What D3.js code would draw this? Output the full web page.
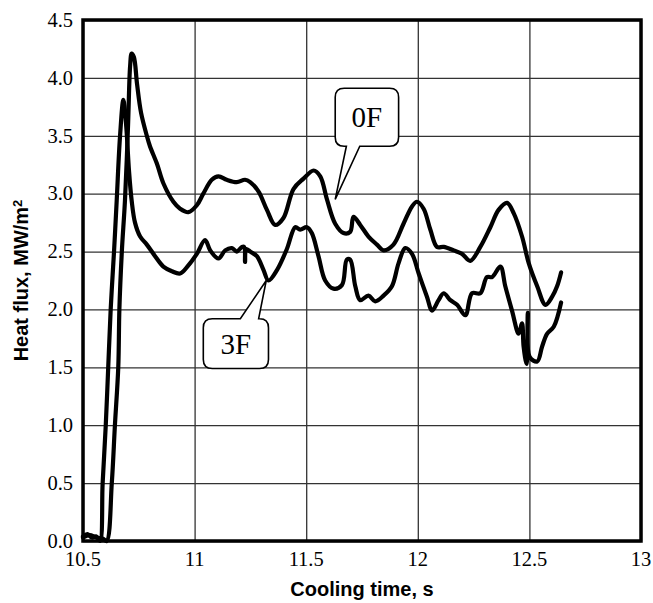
<!DOCTYPE html>
<html>
<head>
<meta charset="utf-8">
<script src="https://cdn.jsdelivr.net/npm/d3@7"></script>
<style>
  body { margin: 0; background: #fff; }
  .grid line { stroke: #333; stroke-width: 1.3; }
  .tick-label { font-family: "Liberation Serif", "Times New Roman", serif; font-size: 20.5px; fill: #000; }
  .axis-title { font-family: "Liberation Sans", Arial, sans-serif; font-weight: bold; font-size: 20px; }
</style>
</head>
<body>
<svg id="chart" width="653" height="603"></svg>
<script>
// Heat flux vs cooling time, two probes
let xTicks = [10.5, 11, 11.5, 12, 12.5, 13];
let yTicks = [0, 0.5, 1, 1.5, 2, 2.5, 3, 3.5, 4, 4.5];

let series0F = [
    [10.50, 0.03], [10.53, 0.05], [10.56, 0.03], [10.59, 0.02], [10.606, 0.0],
    [10.629, 0.5], [10.643, 1.0], [10.658, 1.5], [10.663, 2.0], [10.674, 2.5],
    [10.688, 2.94], [10.702, 3.6], [10.711, 4.1], [10.718, 4.21], [10.728, 4.18],
    [10.742, 3.95], [10.760, 3.7], [10.786, 3.5], [10.80, 3.41], [10.831, 3.26],
    [10.860, 3.09], [10.905, 2.93], [10.935, 2.87], [10.972, 2.84], [11.010, 2.90],
    [11.039, 3.0], [11.077, 3.12], [11.107, 3.15], [11.144, 3.12], [11.189, 3.10],
    [11.226, 3.12], [11.249, 3.10], [11.286, 3.02], [11.324, 2.86], [11.361, 2.73],
    [11.398, 2.79], [11.443, 3.04], [11.488, 3.13], [11.533, 3.20], [11.563, 3.15],
    [11.593, 2.95], [11.630, 2.74], [11.667, 2.66], [11.697, 2.67], [11.712, 2.80],
    [11.742, 2.73], [11.779, 2.63], [11.817, 2.56], [11.847, 2.51], [11.891, 2.56],
    [11.936, 2.74], [11.974, 2.89], [11.996, 2.93], [12.026, 2.87], [12.056, 2.69],
    [12.086, 2.54], [12.116, 2.54], [12.161, 2.51], [12.198, 2.48], [12.235, 2.42],
    [12.280, 2.54], [12.325, 2.71], [12.362, 2.86], [12.400, 2.92], [12.430, 2.83],
    [12.467, 2.63], [12.497, 2.40], [12.535, 2.20], [12.572, 2.04], [12.602, 2.11],
    [12.624, 2.20], [12.642, 2.32]
];

let series3F = [
    [10.50, 0.04], [10.52, 0.06], [10.54, 0.03], [10.56, 0.04], [10.576, 0.0],
    [10.588, 0.5], [10.602, 1.0], [10.613, 1.5], [10.624, 2.0], [10.639, 2.5],
    [10.651, 2.94], [10.666, 3.5], [10.681, 3.81], [10.693, 3.6], [10.706, 3.2],
    [10.718, 2.94], [10.733, 2.75], [10.756, 2.63], [10.786, 2.56], [10.823, 2.46],
    [10.860, 2.37], [10.898, 2.33], [10.935, 2.31], [10.972, 2.38], [11.010, 2.48],
    [11.047, 2.60], [11.070, 2.51], [11.107, 2.44], [11.137, 2.51], [11.167, 2.53],
    [11.189, 2.50], [11.212, 2.54], [11.222, 2.54], [11.226, 2.41], [11.231, 2.52],
    [11.249, 2.50], [11.279, 2.46], [11.309, 2.34], [11.331, 2.25], [11.369, 2.34],
    [11.413, 2.52], [11.451, 2.71], [11.473, 2.69], [11.503, 2.71], [11.525, 2.66],
    [11.555, 2.46], [11.585, 2.25], [11.622, 2.18], [11.660, 2.21], [11.682, 2.43],
    [11.697, 2.43], [11.720, 2.20], [11.742, 2.08], [11.779, 2.12], [11.809, 2.07],
    [11.847, 2.12], [11.884, 2.20], [11.914, 2.40], [11.944, 2.53], [11.974, 2.48],
    [12.004, 2.31], [12.041, 2.11], [12.064, 1.99], [12.093, 2.08], [12.116, 2.14],
    [12.146, 2.08], [12.176, 2.04], [12.213, 1.95], [12.243, 2.14], [12.280, 2.14],
    [12.310, 2.28], [12.333, 2.28], [12.370, 2.37], [12.392, 2.20], [12.422, 1.99],
    [12.452, 1.79], [12.467, 1.88], [12.474, 1.68], [12.487, 1.53], [12.493, 1.97],
    [12.501, 1.59], [12.535, 1.55], [12.557, 1.68], [12.579, 1.79], [12.609, 1.85],
    [12.642, 2.06]
];

// callouts: box extent and pointer tip, in data units
let callouts = [
    {label: "0F", x0: 11.630, x1: 11.914, y0: 3.41, y1: 3.91, tip: [11.63, 2.95], side: "bottom", base: [11.68, 11.74]},
    {label: "3F", x0: 11.039, x1: 11.331, y0: 1.49, y1: 1.92, tip: [11.321, 2.25], side: "top", base: [11.205, 11.287]}
];

let svg = d3.select("#chart");
let margin = {top: 20, right: 12, bottom: 62, left: 83};
let width = +svg.attr("width") - margin.left - margin.right;
let height = +svg.attr("height") - margin.top - margin.bottom;

let x = d3.scaleLinear().domain([10.5, 13]).range([0, width]);
let y = d3.scaleLinear().domain([0, 4.5]).range([height, 0]);

let g = svg.append("g").attr("transform", `translate(${margin.left},${margin.top})`);

// gridlines from the axes, labels drawn separately
g.append("g")
    .attr("class", "grid")
    .attr("transform", `translate(0,${height})`)
    .call(d3.axisBottom(x).tickValues(xTicks).tickSize(-height).tickFormat(""))
    .call(a => a.select(".domain").remove());

g.append("g")
    .attr("class", "grid")
    .call(d3.axisLeft(y).tickValues(yTicks).tickSize(-width).tickFormat(""))
    .call(a => a.select(".domain").remove());

g.selectAll(".xlabel")
    .data(xTicks)
    .enter()
    .append("text")
    .attr("class", "tick-label")
    .attr("x", d => x(d))
    .attr("y", height + 25)
    .attr("text-anchor", "middle")
    .text(d => String(d));

g.selectAll(".ylabel")
    .data(yTicks)
    .enter()
    .append("text")
    .attr("class", "tick-label")
    .attr("x", -10)
    .attr("y", d => y(d))
    .attr("dy", "0.33em")
    .attr("text-anchor", "end")
    .text(d => d3.format(".1f")(d));

let line = d3.line()
    .x(d => x(d[0]))
    .y(d => y(d[1]))
    .curve(d3.curveCatmullRom.alpha(0.5));

[series0F, series3F].forEach(s => {
    g.append("path")
        .datum(s)
        .attr("fill", "none")
        .attr("stroke", "#000")
        .attr("stroke-width", 4.2)
        .attr("stroke-linejoin", "round")
        .attr("stroke-linecap", "round")
        .attr("d", line);
});

// frame
g.append("rect")
    .attr("width", width)
    .attr("height", height)
    .attr("fill", "none")
    .attr("stroke", "#000")
    .attr("stroke-width", 3.5);

// callout boxes
callouts.forEach(c => {
    let L = x(c.x0), R = x(c.x1), T = y(c.y1), B = y(c.y0), r = 9;
    let b0 = x(c.base[0]), b1 = x(c.base[1]);
    let tx = x(c.tip[0]), ty = y(c.tip[1]);
    let p = d3.path();
    p.moveTo(L + r, T);
    if (c.side === "top") { p.lineTo(b0, T); p.lineTo(tx, ty); p.lineTo(b1, T); }
    p.lineTo(R - r, T);
    p.quadraticCurveTo(R, T, R, T + r);
    p.lineTo(R, B - r);
    p.quadraticCurveTo(R, B, R - r, B);
    if (c.side === "bottom") { p.lineTo(b1, B); p.lineTo(tx, ty); p.lineTo(b0, B); }
    p.lineTo(L + r, B);
    p.quadraticCurveTo(L, B, L, B - r);
    p.lineTo(L, T + r);
    p.quadraticCurveTo(L, T, L + r, T);
    p.closePath();
    g.append("path")
        .attr("d", p.toString())
        .attr("fill", "#fff")
        .attr("stroke", "#000")
        .attr("stroke-width", 1.6);
    g.append("text")
        .attr("class", "tick-label")
        .attr("x", (L + R) / 2)
        .attr("y", (T + B) / 2)
        .attr("dy", "0.35em")
        .attr("text-anchor", "middle")
        .style("font-size", "29px")
        .text(c.label);
});

svg.append("text")
    .attr("class", "axis-title")
    .attr("x", margin.left + width / 2)
    .attr("y", 596)
    .attr("text-anchor", "middle")
    .text("Cooling time, s");

let yt = svg.append("text")
    .attr("class", "axis-title")
    .attr("transform", `translate(28,${margin.top + height / 2}) rotate(-90)`)
    .attr("text-anchor", "middle");
yt.append("tspan").text("Heat flux, MW/m");
yt.append("tspan").attr("dy", "-0.45em").style("font-size", "13px").text("2");
</script>
</body>
</html>
